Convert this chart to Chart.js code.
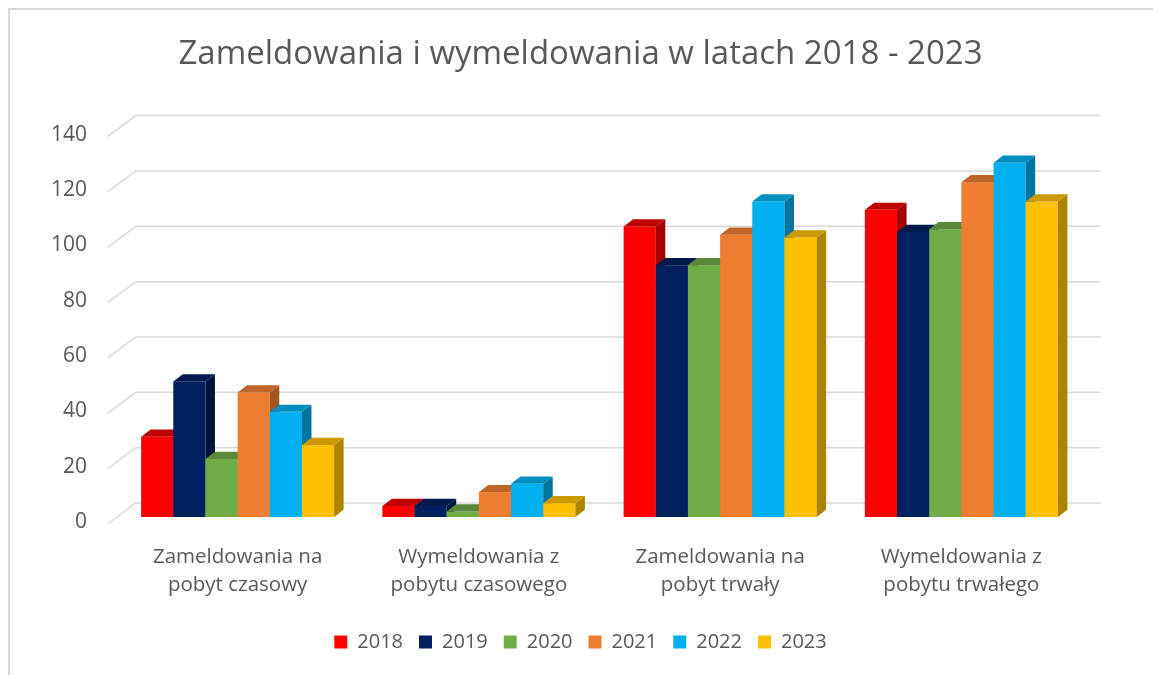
<!DOCTYPE html>
<html>
<head>
<meta charset="utf-8">
<script src="https://cdn.jsdelivr.net/npm/chart.js@4.4.1/dist/chart.umd.min.js"></script>
<style>
    html, body { margin: 0; padding: 0; background: #fff; }
    #wrap { position: relative; width: 1153px; height: 675px; overflow: hidden; }
    #ramka { position: absolute; left: 8px; top: 8px; width: 1160px; height: 680px;
             border-left: 2px solid #d9d9d9; border-top: 2px solid #d9d9d9; }
    canvas { position: absolute; left: 0; top: 0; }
</style>
</head>
<body>
<div id="wrap">
    <div id="ramka"></div>
    <canvas id="wykres" width="1153" height="675"></canvas>
</div>
<script>
// dane
const kategorie = [
    ['Zameldowania na', 'pobyt czasowy'],
    ['Wymeldowania z', 'pobytu czasowego'],
    ['Zameldowania na', 'pobyt trwały'],
    ['Wymeldowania z', 'pobytu trwałego']
];
const lata = ['2018', '2019', '2020', '2021', '2022', '2023'];
const dane2018 = [29, 4, 105, 111];
const dane2019 = [49, 4, 91, 103];
const dane2020 = [21, 2, 91, 104];
const dane2021 = [45, 9, 102, 121];
const dane2022 = [38, 12, 114, 128];
const dane2023 = [26, 5, 101, 114];
const osY = [0, 20, 40, 60, 80, 100, 120, 140];

// kolory: przód, góra, bok
const kolory = [
    ['#FF0000', '#C00000', '#A30000'],
    ['#002060', '#001A4E', '#00133A'],
    ['#70AD47', '#5A8A39', '#4C7630'],
    ['#ED7D31', '#BE6427', '#A25523'],
    ['#00B0F0', '#008DC0', '#0075A0'],
    ['#FFC000', '#CC9A00', '#AD8300']
];

const wszystkie = [dane2018, dane2019, dane2020, dane2021, dane2022, dane2023];

// efekt 3D (przesunięcia głębi)
const GL_X = 9.5, GL_Y = 7.2;      // głębokość słupka
const SC_X = 18.7, SC_Y = 14;      // tylna ściana względem przodu słupka
const PR_X = 9.3, PR_Y = 7;        // przednia krawędź podłogi

const wykres3d = {
    id: 'wykres3d',
    beforeDatasetsDraw(chart) {
        const ctx = chart.ctx;
        const y = chart.scales.y;
        const area = chart.chartArea;

        // linie siatki: ukos po podłodze + pozioma na tylnej ścianie
        ctx.save();
        ctx.strokeStyle = '#D9D9D9';
        ctx.lineWidth = 1.5;
        osY.forEach(v => {
            const py = y.getPixelForValue(v);
            ctx.beginPath();
            ctx.moveTo(area.left - PR_X, py + PR_Y);
            ctx.lineTo(area.left + SC_X, py - SC_Y);
            ctx.lineTo(area.right + SC_X, py - SC_Y);
            ctx.stroke();
        });
        ctx.restore();

        // słupki (rysowane po kolei, żeby przód następnego zakrywał bok poprzedniego)
        chart.data.datasets.forEach((ds, i) => {
            const meta = chart.getDatasetMeta(i);
            if (meta.hidden) return;
            const [cPrzod, cGora, cBok] = kolory[i];
            meta.data.forEach(el => {
                const p = el.getProps(['x', 'y', 'base', 'width'], true);
                const l = p.x - p.width / 2, r = p.x + p.width / 2;
                const t = p.y, b = p.base;
                ctx.save();
                ctx.fillStyle = cPrzod;
                ctx.fillRect(l, t, r - l, b - t);
                ctx.fillStyle = cBok;
                ctx.beginPath();
                ctx.moveTo(r, t);
                ctx.lineTo(r + GL_X, t - GL_Y);
                ctx.lineTo(r + GL_X, b - GL_Y);
                ctx.lineTo(r, b);
                ctx.closePath();
                ctx.fill();
                ctx.fillStyle = cGora;
                ctx.beginPath();
                ctx.moveTo(l, t);
                ctx.lineTo(r, t);
                ctx.lineTo(r + GL_X, t - GL_Y);
                ctx.lineTo(l + GL_X, t - GL_Y);
                ctx.closePath();
                ctx.fill();
                ctx.restore();
            });
        });
        return false;
    }
};

const zestawy = lata.map((rok, i) => ({
    label: rok,
    data: wszystkie[i],
    backgroundColor: kolory[i][0],
    borderWidth: 0
}));

new Chart(document.getElementById('wykres'), {
    type: 'bar',
    data: {
        labels: kategorie,
        datasets: zestawy
    },
    options: {
        responsive: false,
        animation: false,
        layout: { padding: { left: 8, right: 0, top: 0, bottom: 13 } },
        datasets: {
            bar: { categoryPercentage: 0.8, barPercentage: 1.0 }
        },
        plugins: {
            title: {
                display: true,
                text: 'Zameldowania i wymeldowania w latach 2018 - 2023',
                color: '#595959',
                font: { family: 'Open Sans', size: 33, weight: 'normal', lineHeight: 1.2 },
                padding: { top: 35, bottom: 55 }
            },
            legend: {
                position: 'bottom',
                labels: {
                    boxWidth: 13,
                    boxHeight: 13,
                    padding: 16,
                    color: '#595959',
                    font: { family: 'Open Sans', size: 20 }
                }
            },
            tooltip: { enabled: false }
        },
        scales: {
            x: {
                grid: { display: false },
                border: { display: false },
                ticks: {
                    color: '#595959',
                    padding: 18,
                    font: { family: 'Open Sans', size: 20.5, lineHeight: 1.37 }
                },
                afterFit(scale) { scale.height = 99; }
            },
            y: {
                min: 0,
                max: 140,
                grid: { display: false, drawTicks: false },
                border: { display: false },
                ticks: {
                    stepSize: 20,
                    padding: 30,
                    labelOffset: 5,
                    color: '#595959',
                    font: { family: 'Open Sans', size: 21 }
                },
                afterFit(scale) { scale.width = 109; }
            },
            // pusty margines z prawej (miejsce na tylną ścianę)
            y2: {
                position: 'right',
                min: 0,
                max: 140,
                grid: { display: false, drawTicks: false },
                border: { display: false },
                ticks: { display: false },
                afterFit(scale) { scale.width = 71; }
            }
        }
    },
    plugins: [wykres3d]
});
</script>
</body>
</html>
